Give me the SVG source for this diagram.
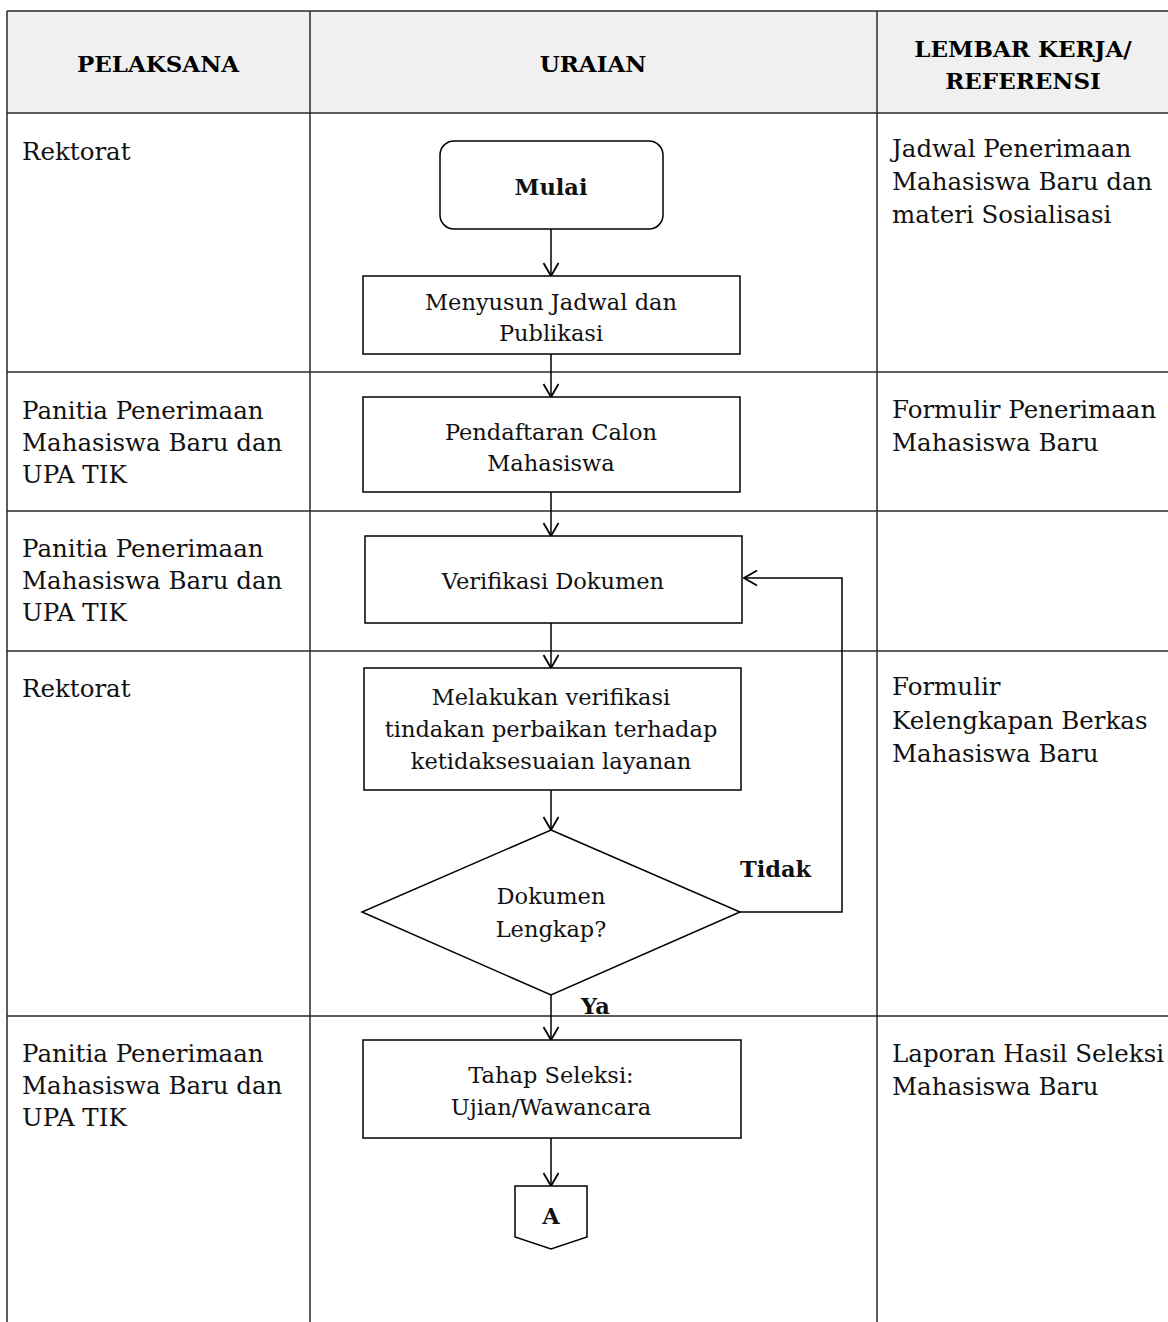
<svg xmlns="http://www.w3.org/2000/svg" width="1168" height="1322" viewBox="0 0 1168 1322">
<style>
.grid{stroke:#2a2a2a;stroke-width:1.5;fill:none}
.shape{stroke:#000;stroke-width:1.5;fill:#fff}
.conn{stroke:#000;stroke-width:1.5;fill:none}
.t{font-family:"DejaVu Serif","Liberation Serif",serif;font-size:22.5px;fill:#111}
.s{font-family:"DejaVu Serif","Liberation Serif",serif;font-size:24.5px;fill:#111}
.c{text-anchor:middle}
.b{font-weight:bold}
.h{font-family:"DejaVu Serif","Liberation Serif",serif;font-size:23px;font-weight:bold;fill:#000;text-anchor:middle}
</style>
<defs>
<marker id="arr" viewBox="0 0 15 18" refX="14" refY="9" markerWidth="15" markerHeight="18" markerUnits="userSpaceOnUse" orient="auto">
<path d="M1,1.5 L14,9 L1,16.5" fill="none" stroke="#000" stroke-width="1.8"/>
</marker>
</defs>
<rect x="0" y="0" width="1168" height="1322" fill="#fff"/>
<g id="table">
<rect x="7" y="11" width="1170" height="102" fill="#f0f0f0"/>
<path class="grid" d="M7,11 H1168 M7,113 H1168 M7,372 H1168 M7,511 H1168 M7,651 H1168 M7,1016 H1168 M7,11 V1322 M310,11 V1322 M877,11 V1322"/>
<text class="h" x="158" y="72">PELAKSANA</text>
<text class="h" x="593" y="72">URAIAN</text>
<text class="h" x="1023" y="57">LEMBAR KERJA/</text>
<text class="h" x="1023" y="89">REFERENSI</text>
</g>
<g id="pelaksana">
<text class="s" x="22" y="160">Rektorat</text>
<text class="s" x="22" y="419">Panitia Penerimaan<tspan x="22" dy="32">Mahasiswa Baru dan</tspan><tspan x="22" dy="32">UPA TIK</tspan></text>
<text class="s" x="22" y="557">Panitia Penerimaan<tspan x="22" dy="32">Mahasiswa Baru dan</tspan><tspan x="22" dy="32">UPA TIK</tspan></text>
<text class="s" x="22" y="697">Rektorat</text>
<text class="s" x="22" y="1062">Panitia Penerimaan<tspan x="22" dy="32">Mahasiswa Baru dan</tspan><tspan x="22" dy="32">UPA TIK</tspan></text>
</g>
<g id="referensi">
<text class="s" x="892" y="157">Jadwal Penerimaan<tspan x="892" dy="33">Mahasiswa Baru dan</tspan><tspan x="892" dy="33">materi Sosialisasi</tspan></text>
<text class="s" x="892" y="418">Formulir Penerimaan<tspan x="892" dy="33">Mahasiswa Baru</tspan></text>
<text class="s" x="892" y="695">Formulir<tspan x="892" dy="34">Kelengkapan Berkas</tspan><tspan x="892" dy="33">Mahasiswa Baru</tspan></text>
<text class="s" x="892" y="1062">Laporan Hasil Seleksi<tspan x="892" dy="33">Mahasiswa Baru</tspan></text>
</g>
<g id="connectors">
<line class="conn" x1="551" y1="229" x2="551" y2="276" marker-end="url(#arr)"/>
<line class="conn" x1="551" y1="354" x2="551" y2="397" marker-end="url(#arr)"/>
<line class="conn" x1="551" y1="492" x2="551" y2="536" marker-end="url(#arr)"/>
<line class="conn" x1="551" y1="623" x2="551" y2="668" marker-end="url(#arr)"/>
<line class="conn" x1="551" y1="790" x2="551" y2="830" marker-end="url(#arr)"/>
<polyline class="conn" points="740,912 842,912 842,578 744,578" marker-end="url(#arr)"/>
<line class="conn" x1="551" y1="995" x2="551" y2="1040" marker-end="url(#arr)"/>
<line class="conn" x1="551" y1="1138" x2="551" y2="1186" marker-end="url(#arr)"/>
<text class="t b" x="740" y="877">Tidak</text>
<text class="t b" x="581" y="1014">Ya</text>
</g>
<g id="mulai">
<rect class="shape" x="440" y="141" width="223" height="88" rx="14"/>
<text class="t c b" x="551" y="195">Mulai</text>
</g>
<g id="menyusun">
<rect class="shape" x="363" y="276" width="377" height="78"/>
<text class="t c" x="551" y="310">Menyusun Jadwal dan<tspan x="551" dy="31">Publikasi</tspan></text>
</g>
<g id="pendaftaran">
<rect class="shape" x="363" y="397" width="377" height="95"/>
<text class="t c" x="551" y="440">Pendaftaran Calon<tspan x="551" dy="31">Mahasiswa</tspan></text>
</g>
<g id="verifikasi">
<rect class="shape" x="365" y="536" width="377" height="87"/>
<text class="t c" x="553" y="589">Verifikasi Dokumen</text>
</g>
<g id="melakukan">
<rect class="shape" x="364" y="668" width="377" height="122"/>
<text class="t c" x="551" y="705">Melakukan verifikasi<tspan x="551" dy="32">tindakan perbaikan terhadap</tspan><tspan x="551" dy="32">ketidaksesuaian layanan</tspan></text>
</g>
<g id="keputusan">
<polygon class="shape" points="551,830 740,912 551,995 362,912"/>
<text class="t c" x="551" y="904">Dokumen<tspan x="551" dy="33">Lengkap?</tspan></text>
</g>
<g id="seleksi">
<rect class="shape" x="363" y="1040" width="378" height="98"/>
<text class="t c" x="551" y="1083">Tahap Seleksi:<tspan x="551" dy="32">Ujian/Wawancara</tspan></text>
</g>
<g id="konektor-a">
<polygon class="shape" points="515,1186 587,1186 587,1237 551,1249 515,1237"/>
<text class="t c b" x="551" y="1224">A</text>
</g>
</svg>
